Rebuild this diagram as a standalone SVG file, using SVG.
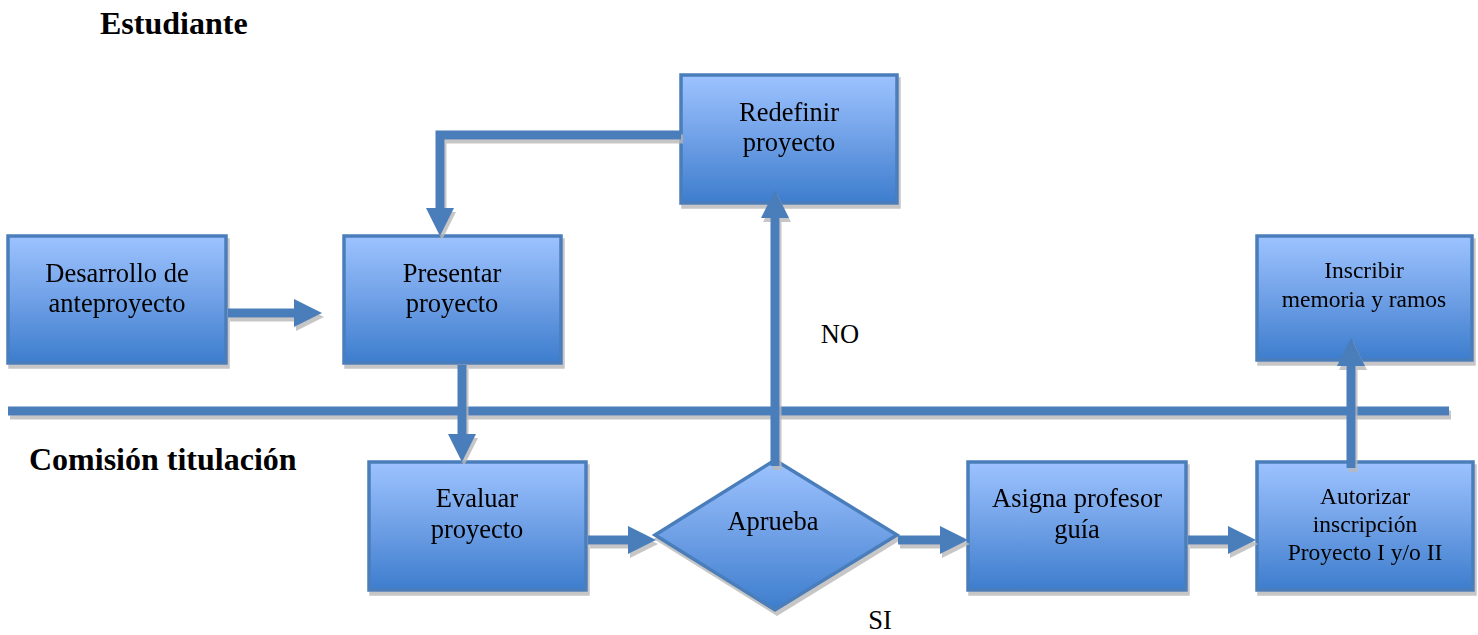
<svg xmlns="http://www.w3.org/2000/svg" width="1478" height="635" viewBox="0 0 1478 635">
<style>
.box{fill:url(#g);stroke:#4a7ebb;stroke-width:3.5}
.t{font-family:"Liberation Serif","Times New Roman",serif;font-size:26.5px;fill:#000;text-anchor:middle}
.s{font-size:23.5px}
.h{font-family:"Liberation Serif","Times New Roman",serif;font-size:32px;font-weight:bold;fill:#000}
.c{fill:none;stroke:#4a7ebb;stroke-width:9;marker-end:url(#ah)}
.lane{fill:none;stroke:#4a7ebb;stroke-width:9}
</style>
<defs>
<linearGradient id="g" x1="0" y1="0" x2="0" y2="1">
<stop offset="0" stop-color="#9dc3ff"/>
<stop offset="0.5" stop-color="#6fa0e6"/>
<stop offset="1" stop-color="#3d7dcd"/>
</linearGradient>
<filter id="sh" filterUnits="userSpaceOnUse" x="0" y="0" width="1478" height="635">
<feDropShadow dx="2" dy="4" stdDeviation="0.6" flood-color="#b8b8b8" flood-opacity="0.8"/>
</filter>
<marker id="ah" markerUnits="userSpaceOnUse" viewBox="0 0 28 28" markerWidth="28" markerHeight="28" refX="0" refY="14" orient="auto">
<path d="M0,0 L28,14 L0,28 z" fill="#4a7ebb"/>
</marker>
</defs>
<rect width="1478" height="635" fill="#fff"/>
<text class="h" x="100" y="34">Estudiante</text>
<text class="h" x="29" y="470">Comisión titulación</text>
<g id="lane-divider" filter="url(#sh)">
<path class="lane" d="M8,411 H1449"/>
</g>
<g id="n-desarrollo" filter="url(#sh)">
<rect class="box" x="8" y="236" width="218" height="127"/>
<text class="t" x="117" y="282">Desarrollo de</text>
<text class="t" x="117" y="312">anteproyecto</text>
</g>
<g id="n-presentar" filter="url(#sh)">
<rect class="box" x="344" y="236" width="217" height="127"/>
<text class="t" x="452" y="282">Presentar</text>
<text class="t" x="452" y="312">proyecto</text>
</g>
<g id="n-redefinir" filter="url(#sh)">
<rect class="box" x="681" y="75" width="216" height="128"/>
<text class="t" x="789" y="121">Redefinir</text>
<text class="t" x="789" y="151">proyecto</text>
</g>
<g id="n-inscribir" filter="url(#sh)">
<rect class="box" x="1257" y="236" width="215" height="124"/>
<text class="t s" x="1364" y="278">Inscribir</text>
<text class="t s" x="1364" y="307">memoria y ramos</text>
</g>
<g id="n-evaluar" filter="url(#sh)">
<rect class="box" x="369" y="462" width="217" height="128"/>
<text class="t" x="477" y="507">Evaluar</text>
<text class="t" x="477" y="538">proyecto</text>
</g>
<g id="n-aprueba" filter="url(#sh)">
<polygon class="box" points="775,460 897,535 775,610 655,535"/>
<text class="t" x="773" y="530">Aprueba</text>
</g>
<g id="n-asigna" filter="url(#sh)">
<rect class="box" x="968" y="462" width="218" height="128"/>
<text class="t" x="1077" y="507">Asigna profesor</text>
<text class="t" x="1077" y="538">guía</text>
</g>
<g id="n-autorizar" filter="url(#sh)">
<rect class="box" x="1257" y="462" width="216" height="128"/>
<text class="t s" x="1365" y="504">Autorizar</text>
<text class="t s" x="1365" y="532">inscripción</text>
<text class="t s" x="1365" y="560">Proyecto I y/o II</text>
</g>
<g id="connectors" filter="url(#sh)">
<path class="c" d="M228,313 H294"/>
<path class="c" d="M681,135 H440 V208"/>
<path class="c" d="M462,365 V434"/>
<path class="c" d="M588,540 H628"/>
<path class="c" d="M775,466 V218"/>
<path class="c" d="M898,540 H940"/>
<path class="c" d="M1188,540 H1228"/>
<path class="c" d="M1351,468 V366"/>
</g>
<text class="t" x="840" y="343">NO</text>
<text class="t" x="880" y="629">SI</text>
</svg>
